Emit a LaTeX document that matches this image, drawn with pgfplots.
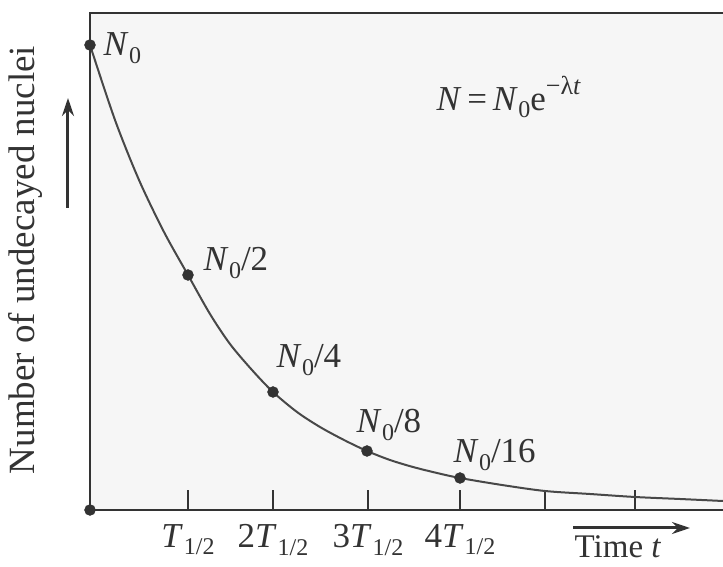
\documentclass[border=0pt]{standalone}
\usepackage[no-math]{fontspec}
\setmainfont{Liberation Serif}
\usepackage{pgfplots}
\pgfplotsset{compat=1.18}
\usetikzlibrary{arrows.meta}
\definecolor{ax}{HTML}{333333}
\definecolor{cv}{HTML}{484848}
\newcommand{\Nz}{\textit{N}\kern0.5pt\raisebox{-0.22em}{\fontsize{24}{26}\selectfont 0}}
\newcommand{\Th}[1]{#1\textit{T}\kern1pt\raisebox{-0.22em}{\fontsize{24}{26}\selectfont 1/2}}
\begin{document}
\begin{tikzpicture}[x=1pt,y=1pt]
\path[use as bounding box] (-90,-57) rectangle (633,510);
\begin{axis}[
  anchor=origin, at={(0,0)}, x=1pt, y=1pt,
  xmin=0, xmax=660, ymin=0, ymax=497,
  clip=false,
  axis line style={line width=2.6pt, color=ax},
  axis background/.style={fill=gray!7},
  font=\fontsize{35}{40}\selectfont,
  xtick={98,183,278,370,455,545},
  xticklabels={\Th{},\Th{2},\Th{3},\Th{4},{},{}},
  xticklabel style={anchor=north, inner sep=0pt, yshift=-14pt, text=ax, font=\fontsize{35}{40}\selectfont},
  ytick=\empty,
  xtick pos=bottom,
  tick align=inside,
  major tick length=20pt,
  tick style={line width=2.6pt, color=ax},
]
\addplot[cv, line width=2pt, smooth] coordinates {
(0,465)(25,390)(49,330)(74,278)(98,235)(120,196)(140,166)(162,140)(183,118)
(207,98)(230,83)(254,70)(277,59)(300,50)(323,43)(347,37)(370,32)(412,25)
(455,19)(500,16)(545,13)(590,11)(633,9)};
\addplot[only marks, mark=*, mark size=5.5pt, color=ax] coordinates {
(0,465)(98,235)(183,118)(277,59)(370,32)(0,0)};
\node[anchor=west, text=ax] at (axis cs:10,462) {\Nz};
\node[anchor=west, text=ax] at (axis cs:110,247) {\Nz/2};
\node[anchor=west, text=ax] at (axis cs:183,150) {\Nz/4};
\node[anchor=west, text=ax] at (axis cs:263,85) {\Nz/8};
\node[anchor=west, text=ax] at (axis cs:360,55) {\Nz/16};
\node[anchor=west, text=ax] at (axis cs:343,413) {\textit{N}\,=\,\Nz e\raisebox{0.45em}{\fontsize{26}{28}\selectfont −λ\textit{t}}};
\node[rotate=90, text=ax, font=\fontsize{37}{42}\selectfont] at (axis cs:-65,250) {Number of undecayed nuclei};
\draw[-{Stealth[length=18pt,width=12pt]}, line width=3pt, color=ax] (axis cs:-22,302) -- (axis cs:-22,412);
\draw[-{Stealth[length=18pt,width=12pt]}, line width=3pt, color=ax] (axis cs:483,-18) -- (axis cs:600,-18);
\node[text=ax, inner sep=1pt, font=\fontsize{33}{38}\selectfont] at (axis cs:528,-37) {Time \textit{t}};
\end{axis}
\end{tikzpicture}
\end{document}
